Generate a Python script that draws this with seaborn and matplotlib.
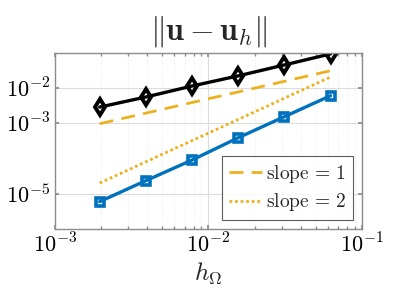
import numpy as np
import pandas as pd
import matplotlib
matplotlib.use("Agg")
import matplotlib.pyplot as plt
import seaborn as sns

# mesh sizes and errors
h = [1/512, 1/256, 1/128, 1/64, 1/32, 1/16]
err_black = [2.9e-3, 5.6e-3, 1.15e-2, 2.23e-2, 4.56e-2, 9.4e-2]
err_blue = [6.0e-6, 2.36e-5, 9.1e-5, 3.9e-4, 1.55e-3, 6.1e-3]
slope1 = [0.5 * x for x in h]
slope2 = [5.3 * x ** 2 for x in h]

BLUE = '#0072BD'
ORANGE = '#EDB120'

sns.set_theme(style="ticks")
plt.rcParams.update({'mathtext.fontset': 'cm', 'font.family': ['DejaVu Serif'],
                     'axes.edgecolor': '#8c8c8c', 'xtick.direction': 'in',
                     'ytick.direction': 'in'})

fig = plt.figure(figsize=(3.99, 2.99), dpi=100)
ax = fig.add_axes([0.138, 0.234, 0.769, 0.589])
ax.set_xscale('log')
ax.set_yscale('log')

sns.lineplot(x=h, y=err_black, ax=ax, color='black', lw=2.4, marker='d',
             markersize=8, markerfacecolor='none', markeredgecolor='black',
             markeredgewidth=2.8)
sns.lineplot(x=h, y=slope1, ax=ax, color=ORANGE, lw=2, linestyle=(0, (5, 3)),
             label=r'$\mathrm{slope}\,=\,1$')
sns.lineplot(x=h, y=slope2, ax=ax, color=ORANGE, lw=2, linestyle=(0, (1, 1)),
             label=r'$\mathrm{slope}\,=\,2$')
sns.lineplot(x=h, y=err_blue, ax=ax, color=BLUE, lw=2.4, marker='s',
             markersize=6, markerfacecolor='none', markeredgecolor=BLUE,
             markeredgewidth=2.6)

ax.set_xlim(1e-3, 1e-1)
ax.set_ylim(1e-6, 1e-1)
ax.set_xticks([1e-3, 1e-2, 1e-1])
ax.set_xticklabels([r'$10^{-3}$', r'$10^{-2}$', r'$10^{-1}$'])
ax.set_yticks([1e-5, 1e-3, 1e-2])
ax.set_yticklabels([r'$10^{-5}$', r'$10^{-3}$', r'$10^{-2}$'])
ax.tick_params(which='both', top=True, right=True, labelsize=16, colors='#8c8c8c',
               labelcolor='black', length=3)
ax.tick_params(which='minor', length=2)
ax.grid(True, which='major', color='#dcdcdc', lw=0.8)
ax.grid(True, which='minor', color='#e6e6e6', lw=0.6, linestyle=':')
for s in ax.spines.values():
    s.set_linewidth(1)

ax.set_title(r'$\|\mathbf{u}-\mathbf{u}_h\|$', fontsize=23, pad=10)
ax.set_xlabel(r'$h_\Omega$', fontsize=18, labelpad=2)
ax.set_ylabel('')

leg = ax.legend(loc='lower right', fontsize=14, frameon=True, fancybox=False,
                handlelength=1.7, handletextpad=0.2, borderpad=0.35,
                labelspacing=0.35, borderaxespad=0.45)
leg.get_frame().set_edgecolor('#333333')
leg.get_frame().set_linewidth(0.8)

fig.savefig('out.png', dpi=100)
